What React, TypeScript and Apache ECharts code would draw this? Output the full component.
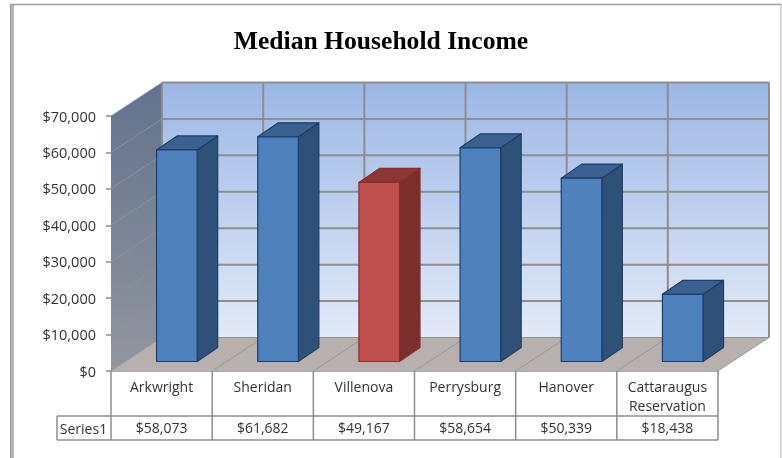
import React, { useEffect, useRef } from "react";
import * as echarts from "echarts";

const chartTitle = "Median Household Income";
const seriesName = "Series1";
const categories = ["Arkwright", "Sheridan", "Villenova", "Perrysburg", "Hanover", "Cattaraugus\nReservation"];
const incomes = [58073, 61682, 49167, 58654, 50339, 18438];
const highlighted = "Villenova";
const yMax = 70000;
const yStep = 10000;
const yTicks = [0, 10000, 20000, 30000, 40000, 50000, 60000, 70000];

const money = (v: number) => "$" + Number(v).toLocaleString("en-US");
const FONT = "Open Sans";
const LINE = "#8e8e8e";
const TEXT = "#333333";

// projection of the 3D box
const DX = 51;
const DY = -33.5;
const BAR_W = 40.6;
const BAR_SHIFT_X = 15.3;
const BAR_SHIFT_Y = -9.5;
const BAR_DX = 20.5;
const BAR_DY = -14;

const grid = { left: 111, top: 116, width: 607, height: 255 };

function poly(points: number[][], style: any) {
  return { type: "polygon", shape: { points }, style, silent: true };
}
function seg(a: number[], b: number[], stroke: string, lineWidth: number) {
  return {
    type: "line",
    shape: { x1: a[0], y1: a[1], x2: b[0], y2: b[1] },
    style: { stroke, lineWidth },
    silent: true,
  };
}

function renderWalls(params: any, api: any) {
  if (params.dataIndex !== 0) return { type: "group", children: [] };
  const cs = params.coordSys;
  const left = cs.x;
  const right = cs.x + cs.width;
  const y0 = api.coord([0, 0])[1];
  const yTop = api.coord([0, yMax])[1];
  const children: any[] = [];
  children.push(
    poly(
      [[left + DX, yTop + DY], [right + DX, yTop + DY], [right + DX, y0 + DY], [left + DX, y0 + DY]],
      {
        fill: new echarts.graphic.LinearGradient(0, 0, 0, 1, [
          { offset: 0, color: "#9cb7e5" },
          { offset: 1, color: "#e3eaf8" },
        ]),
      }
    )
  );
  children.push(
    poly([[left, yTop], [left + DX, yTop + DY], [left + DX, y0 + DY], [left, y0]], {
      fill: new echarts.graphic.LinearGradient(0, 0, 0, 1, [
        { offset: 0, color: "#62728e" },
        { offset: 1, color: "#92969f" },
      ]),
    })
  );
  children.push(
    poly([[left, y0], [left + DX, y0 + DY], [right + DX, y0 + DY], [right, y0]], { fill: "#b8afaf" })
  );
  yTicks.forEach((t) => {
    const y = api.coord([0, t])[1];
    children.push(seg([left + DX, y + DY], [right + DX, y + DY], LINE, t === 0 ? 1 : 2));
    children.push(seg([left, y], [left + DX, y + DY], "#94948a", 0.8));
  });
  categories.concat([""]).forEach((_, i) => {
    const x = left + (cs.width * i) / categories.length;
    children.push(seg([x + DX, yTop + DY], [x + DX, y0 + DY], LINE, 2));
    if (i > 0) children.push(seg([x, y0], [x + DX, y0 + DY], "#94948a", 0.8));
  });
  return { type: "group", children };
}

function renderBar(params: any, api: any) {
  const cat = api.value(0);
  const top = api.coord([cat, api.value(1)]);
  const base = api.coord([cat, 0]);
  const x0 = top[0] + BAR_SHIFT_X - BAR_W / 2;
  const x1 = x0 + BAR_W;
  const yT = top[1] + BAR_SHIFT_Y;
  const yB = base[1] + BAR_SHIFT_Y;
  const red = categories[params.dataIndex] === highlighted;
  const c = red
    ? { front: "#c0504d", side: "#7a2f2e", top: "#8a3837", edge: "#8a2f2c" }
    : { front: "#4f81bd", side: "#2f5178", top: "#3a6090", edge: "#1d3e69" };
  const edge = { stroke: c.edge, lineWidth: 1.2, lineJoin: "round" };
  return {
    type: "group",
    children: [
      poly([[x1, yT], [x1 + BAR_DX, yT + BAR_DY], [x1 + BAR_DX, yB + BAR_DY], [x1, yB]], { fill: c.side, ...edge }),
      poly([[x0, yT], [x0 + BAR_DX, yT + BAR_DY], [x1 + BAR_DX, yT + BAR_DY], [x1, yT]], { fill: c.top, ...edge }),
      poly([[x0, yT], [x1, yT], [x1, yB], [x0, yB]], { fill: c.front, ...edge }),
    ],
  };
}

function tableGraphics() {
  const g = grid;
  const yA = g.top + g.height;
  const yB = 416;
  const yC = 440;
  const out: any[] = [];
  const line = (x1: number, y1: number, x2: number, y2: number, lw = 1.5, stroke = LINE) =>
    out.push({ type: "line", shape: { x1, y1, x2, y2 }, style: { stroke, lineWidth: lw }, silent: true });
  // outer chart frame
  line(12, 4, 12, 458, 4, "#b4b4b4");
  line(10.5, 4, 10.5, 458, 1, "#9a9a9a");
  line(11, 4.5, 781, 4.5, 1.5, "#a0a0a0");
  line(781, 4, 781, 458, 1, "#b4b4b4");
  // data table
  line(g.left, yA, g.left + g.width, yA);
  line(57, yB, g.left + g.width, yB);
  line(57, yC, g.left + g.width, yC);
  line(57, yB, 57, yC);
  categories.concat([""]).forEach((_, i) => {
    const x = g.left + (g.width * i) / categories.length;
    line(x, yA, x, yC);
  });
  out.push({
    type: "text",
    x: 83.5,
    y: 428,
    silent: true,
    style: { text: seriesName, fill: TEXT, font: `14px "${FONT}"`, align: "center", verticalAlign: "middle" },
  });
  return out;
}

export default function App() {
  const ref = useRef<HTMLDivElement>(null);
  useEffect(() => {
    const chart = echarts.init(ref.current!, null, { renderer: "svg" });
    chart.setOption({
      animation: false,
      backgroundColor: "#fff",
      title: {
        text: chartTitle,
        left: 376,
        top: 22,
        textAlign: "center",
        textStyle: { fontFamily: "Liberation Serif", fontWeight: "bold", fontSize: 25.6, color: "#000" },
      },
      grid: { ...grid, containLabel: false },
      xAxis: [
        {
          type: "category",
          data: categories,
          position: "bottom",
          axisLine: { show: false },
          axisTick: { show: false },
          axisLabel: {
            interval: 0,
            margin: 6,
            color: TEXT,
            fontFamily: FONT,
            fontSize: 14,
            lineHeight: 19,
            verticalAlign: "top",
          },
        },
        {
          type: "category",
          data: incomes.map(money),
          position: "bottom",
          offset: 49,
          axisLine: { show: false },
          axisTick: { show: false },
          axisLabel: {
            interval: 0,
            margin: 0,
            color: TEXT,
            fontFamily: FONT,
            fontSize: 14,
            verticalAlign: "top",
          },
        },
      ],
      yAxis: {
        type: "value",
        min: 0,
        max: yMax,
        interval: yStep,
        axisLine: { show: false },
        axisTick: { show: true, length: 5, lineStyle: { color: LINE, width: 1.5 } },
        splitLine: { show: false },
        axisLabel: { margin: 15, color: TEXT, fontFamily: FONT, fontSize: 14.5, formatter: money },
      },
      series: [
        {
          type: "custom",
          name: "walls",
          xAxisIndex: 0,
          clip: false,
          silent: true,
          renderItem: renderWalls,
          data: categories.map((_, i) => [i, 0]),
          encode: { x: 0, y: 1 },
          z: 1,
        },
        {
          type: "custom",
          name: seriesName,
          xAxisIndex: 0,
          clip: false,
          renderItem: renderBar,
          data: incomes.map((v, i) => [i, v]),
          encode: { x: 0, y: 1 },
          z: 2,
        },
      ],
      graphic: tableGraphics(),
    });
    return () => chart.dispose();
  }, []);
  return (
    <div
      ref={ref}
      style={{ position: "absolute", left: 0, top: 0, width: 782, height: 458, filter: "blur(0.35px)" }}
    />
  );
}
